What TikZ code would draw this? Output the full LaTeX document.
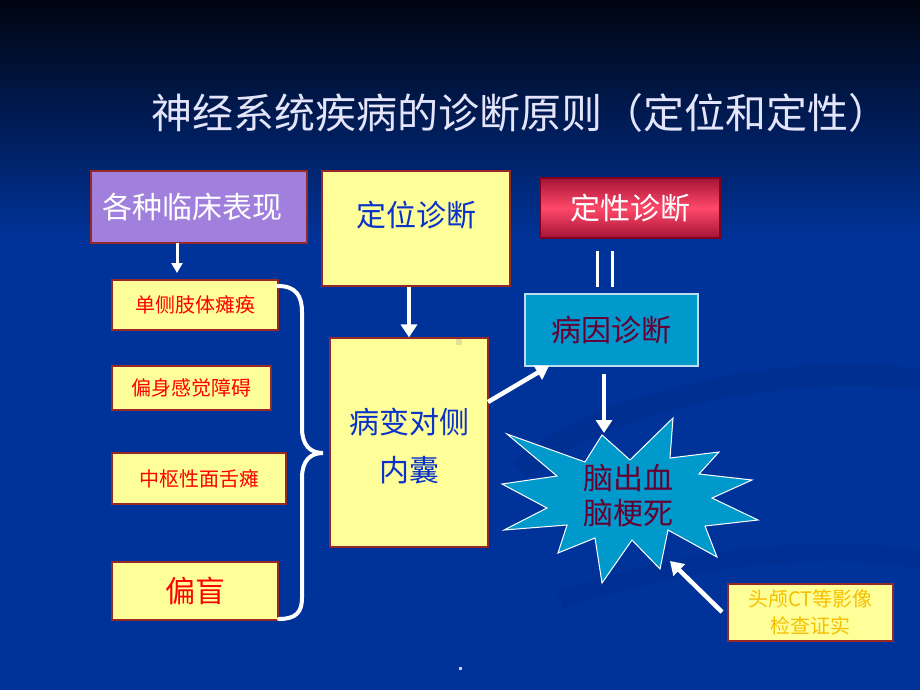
\documentclass[tikz,border=0pt]{standalone}
\usepackage{fontspec}
\setmainfont{Noto Sans CJK SC}
\usetikzlibrary{arrows.meta,calc}
\definecolor{bgblue}{RGB}{0,51,153}
\definecolor{bgtop}{RGB}{0,4,16}
\definecolor{swirl}{RGB}{0,44,140}
\definecolor{boxyellow}{RGB}{255,255,153}
\definecolor{boxborder}{RGB}{150,40,40}
\definecolor{purplebox}{RGB}{160,128,220}
\definecolor{cyanbox}{RGB}{0,153,204}
\definecolor{cyanborder}{RGB}{190,220,235}
\definecolor{txtblue}{RGB}{10,50,200}
\definecolor{maroon}{RGB}{102,0,51}
\definecolor{gold}{RGB}{245,190,0}
\definecolor{redtop}{RGB}{165,20,55}
\definecolor{redmid}{RGB}{255,72,105}
\definecolor{redborder}{RGB}{128,0,32}
\definecolor{titlecol}{RGB}{228,228,250}
\definecolor{dotcol}{RGB}{225,225,150}
\definecolor{dotcolb}{RGB}{200,210,240}
\tikzset{
  x=1pt, y=-1pt,
  ybox/.style={draw=boxborder, line width=1.2pt, fill=boxyellow, minimum width=#1, inner sep=0pt},
  fs/.style={font=\fontsize{#1}{#1}\selectfont},
  warrow/.style={draw=white, line width=4.5pt, -{Triangle[length=13pt,width=16pt]}},
  brace/.style={draw=white, line width=4pt, line cap=round}
}
\begin{document}
\begin{tikzpicture}
\useasboundingbox (0,0) rectangle (920,690);
% background
\fill[bgblue] (0,0) rectangle (920,690);
\shade[top color=bgtop, bottom color=bgblue] (0,0) rectangle (920,240);
% faint swirls
\draw[line width=22pt, color=swirl, opacity=0.5] (520,470) .. controls (600,400) and (800,360) .. (920,380);
\draw[line width=18pt, color=swirl, opacity=0.45] (560,600) .. controls (680,560) and (820,540) .. (920,560);

% title
\node[fs=41, text=titlecol, anchor=west] (title) at (148,113) {神经系统疾病的诊断原则（定位和定性）};

% top boxes
\node[draw=boxborder, line width=1.2pt, fill=purplebox, minimum width=216pt, minimum height=72pt, inner sep=0pt] (clin) at (199,207) {};
\node[fs=30, text=white] (clint) at (192,207) {各种临床表现};
\node[ybox=188pt, minimum height=115pt] (dw) at (416,228.5) {};
\node[fs=30, text=txtblue] (dwt) at (416,215) {定位诊断};
\node[draw=redborder, line width=1.2pt, top color=redtop, bottom color=redtop, middle color=redmid, minimum width=180pt, minimum height=60pt, inner sep=0pt, fs=30, text=white] (dx) at (630,208) {定性诊断};
\node[draw=cyanborder, line width=1.2pt, fill=cyanbox, minimum width=173pt, minimum height=72pt, inner sep=0pt, fs=30, text=maroon] (by) at (611.5,330) {病因诊断};

% symptom boxes
\node[ybox=166pt, minimum height=50pt, fs=20, text=red] (s1) at (195,305) {单侧肢体瘫痪};
\node[ybox=159pt, minimum height=44pt, fs=20, text=red] (s2) at (191.5,388) {偏身感觉障碍};
\node[ybox=174pt, minimum height=51pt, fs=20, text=red] (s3) at (199,478.5) {中枢性面舌瘫};
\node[ybox=166pt, minimum height=58pt, fs=30, text=red] (s4) at (195,591) {偏盲};

% internal capsule box
\node[ybox=158pt, minimum height=209pt] (nn) at (409,442.5) {};
\node[font=\fontsize{30}{48}\selectfont, text=txtblue, align=center] (nnt) at (409,446) {病变对侧\\内囊};
\fill[dotcol] (456,339) rectangle (462,345);

% CT box
\node[ybox=165pt, minimum height=57pt, font=\fontsize{20}{27}\selectfont, text=gold, align=center] (ct) at (810.5,612.5) {头颅CT等影像\\检查证实};

% starburst
\draw[white, line width=1pt, fill=cyanbox]
  (602,435) -- (630,460) -- (673,418) -- (670,458) -- (719,452) -- (699,474)
  -- (752,480) -- (712,498) -- (758,520) -- (705,526) -- (717,557) -- (668,530)
  -- (660,569) -- (632,540) -- (602,583) -- (595,538) -- (558,553) -- (567,525)
  -- (504,530) -- (547,508) -- (502,484) -- (557,476) -- (507,434) -- (585,462) -- cycle;
\coordinate (sbtop) at (604,433);
\coordinate (sbbr) at (670,561);
\node[font=\fontsize{30}{35}\selectfont, text=maroon, align=center] (sb) at (628,496) {脑出血\\脑梗死};

% arrows
\coordinate (clinA) at (177,243);
\coordinate (clinB) at (177,273);
\draw[draw=white, line width=3pt, -{Triangle[length=10pt,width=11pt]}] (clinA) -- (clinB);
\draw[warrow] (nn.north |- dw.south) -- (nn.north);
\coordinate (nnA) at (488,402);
\coordinate (byA) at (549,366);
\draw[warrow] (nnA) -- (byA);
\coordinate (byB) at (604,374);
\draw[warrow] (byB) -- (sbtop);
\coordinate (ctA) at (722,612);
\draw[warrow] (ctA) -- (sbbr);

% equals
\coordinate (eqA) at (597,251);
\coordinate (eqB) at (597,287);
\coordinate (eqC) at (612,251);
\coordinate (eqD) at (612,287);
\draw[white, line width=3pt] (eqA) -- (eqB);
\draw[white, line width=3pt] (eqC) -- (eqD);

% brace
\draw[brace] (278,286) .. controls (296,286) and (302,296) .. (302,312) -- (302,428)
  .. controls (302,445) and (310,453) .. (323,453)
  .. controls (310,453) and (302,461) .. (302,478) -- (302,598)
  .. controls (302,612) and (296,619) .. (279,619);

% bottom dot
\fill[dotcolb] (459,667) rectangle (462,670);
\end{tikzpicture}
\end{document}
